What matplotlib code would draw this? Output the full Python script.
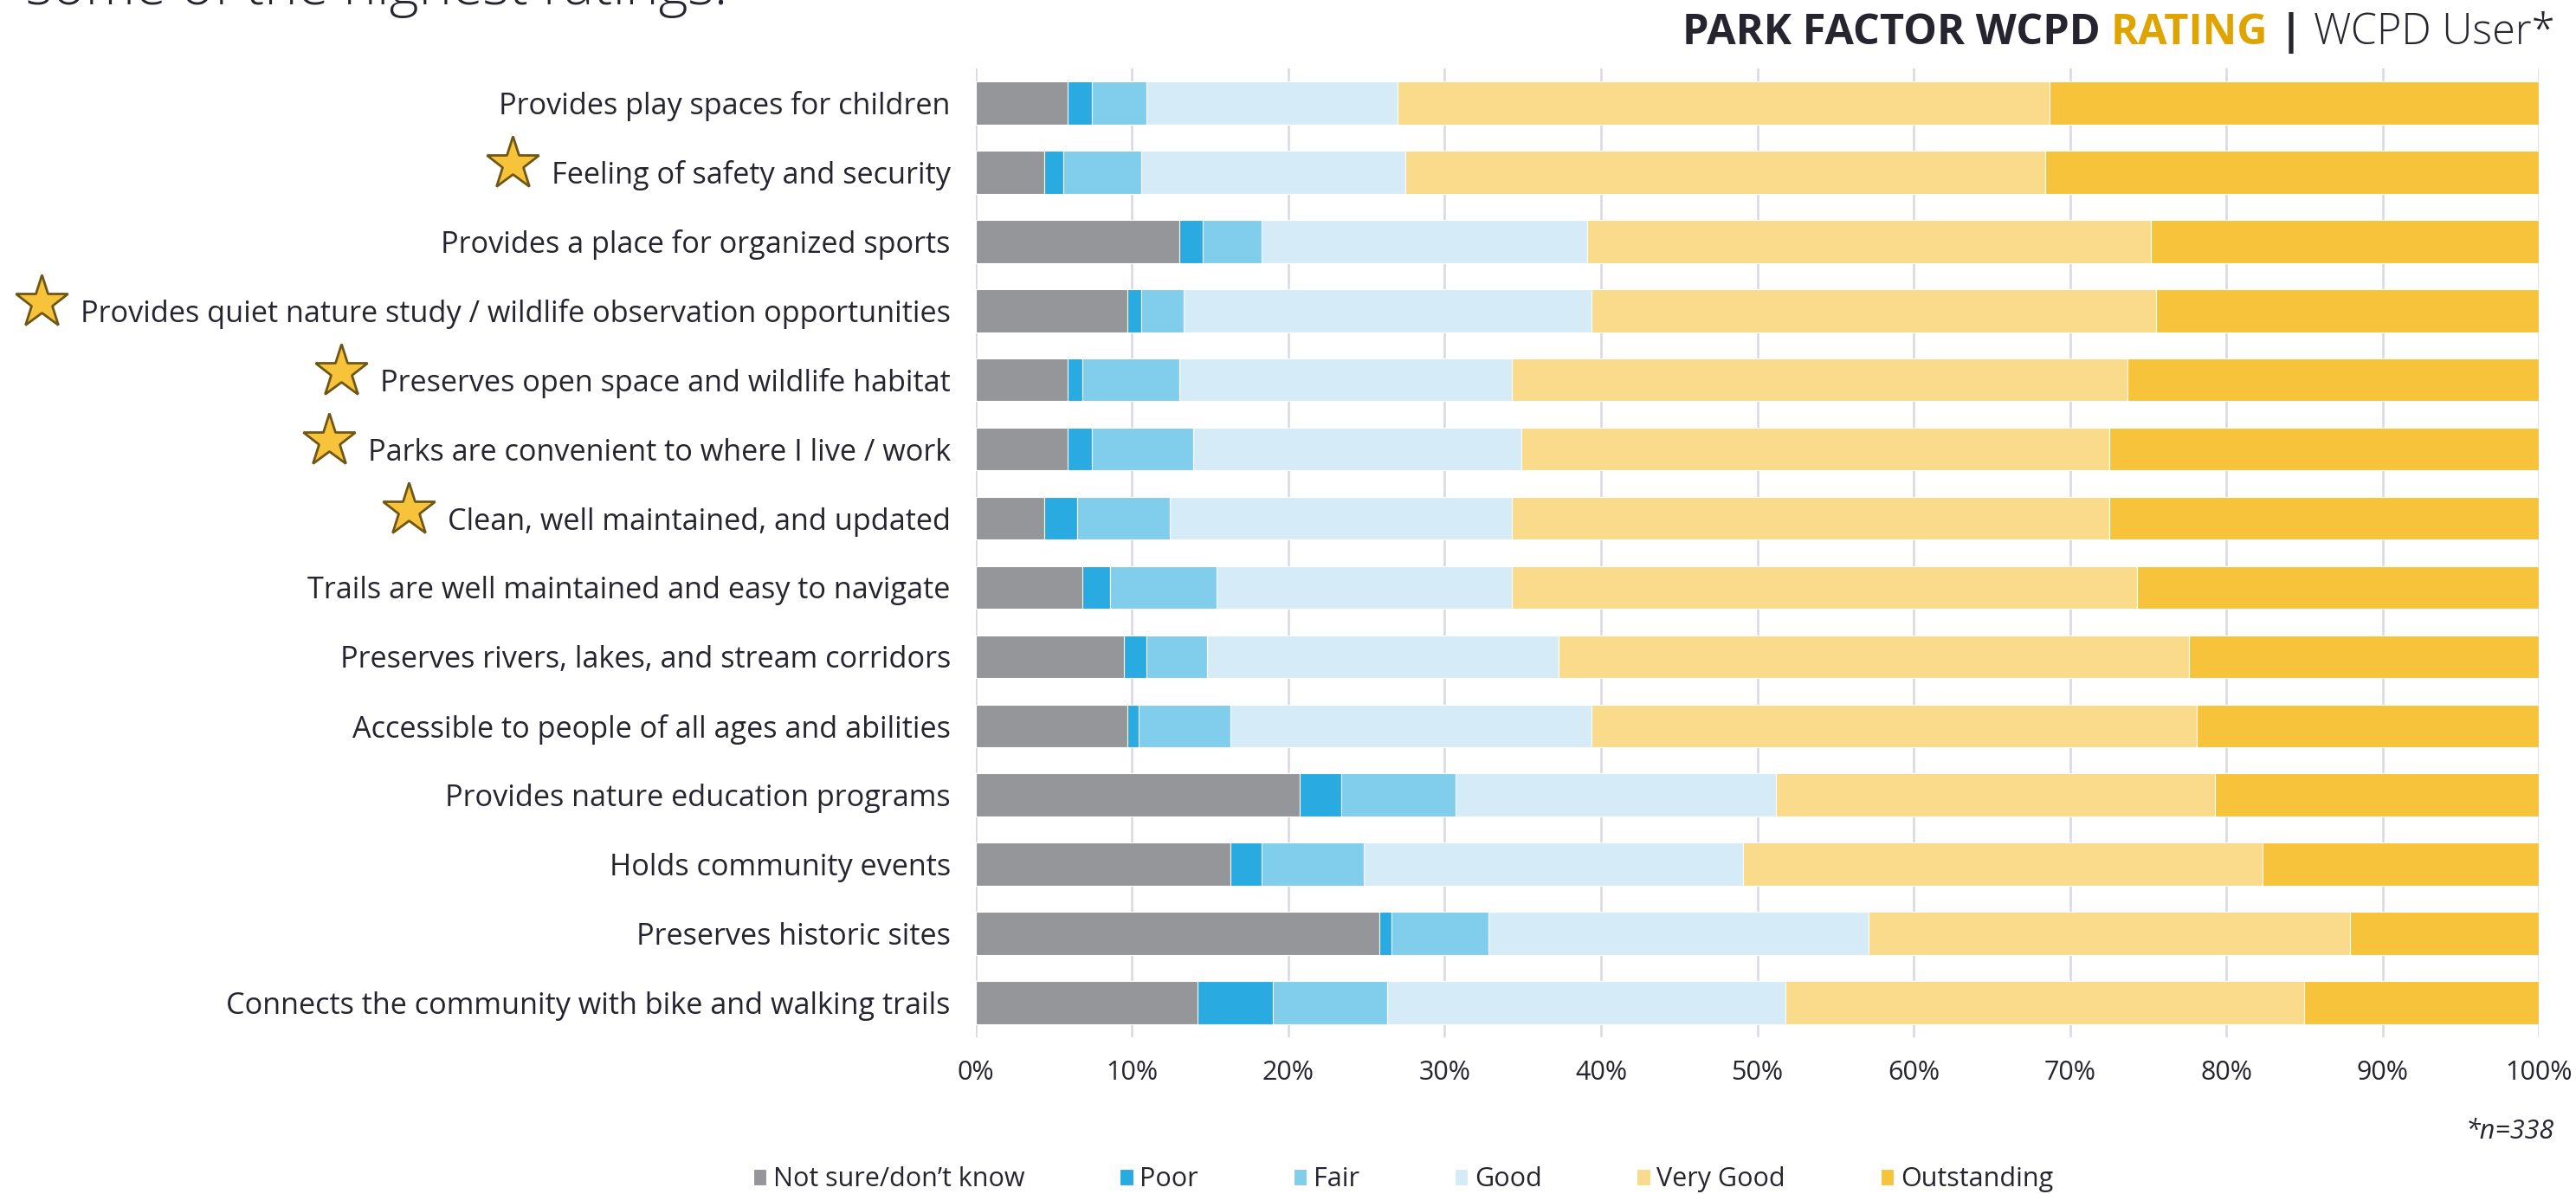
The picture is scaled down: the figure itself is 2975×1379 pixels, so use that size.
import numpy as np
import matplotlib.pyplot as plt
from matplotlib.lines import Line2D

plt.rcParams['font.family'] = ['Open Sans', 'DejaVu Sans']

TEXT = '#26252f'

factors = [
    'Provides play spaces for children',
    'Feeling of safety and security',
    'Provides a place for organized sports',
    'Provides quiet nature study / wildlife observation opportunities',
    'Preserves open space and wildlife habitat',
    'Parks are convenient to where I live / work',
    'Clean, well maintained, and updated',
    'Trails are well maintained and easy to navigate',
    'Preserves rivers, lakes, and stream corridors',
    'Accessible to people of all ages and abilities',
    'Provides nature education programs',
    'Holds community events',
    'Preserves historic sites',
    'Connects the community with bike and walking trails',
]
# rows flagged with a star
starred = [1, 3, 4, 5, 6]

ratings = ['Not sure/don\u2019t know', 'Poor', 'Fair', 'Good', 'Very Good', 'Outstanding']

# percent of respondents, same order as factors
not_sure = [5.9, 4.4, 13.0, 9.7, 5.9, 5.9, 4.4, 6.8, 9.5, 9.7, 20.7, 16.3, 25.8, 14.2]
poor = [1.5, 1.2, 1.5, 0.9, 0.9, 1.5, 2.1, 1.8, 1.4, 0.7, 2.7, 2.0, 0.8, 4.8]
fair = [3.5, 5.0, 3.8, 2.7, 6.2, 6.5, 5.9, 6.8, 3.9, 5.9, 7.3, 6.5, 6.2, 7.3]
good = [16.1, 16.9, 20.8, 26.1, 21.3, 21.0, 21.9, 18.9, 22.5, 23.1, 20.5, 24.3, 24.3, 25.5]
very_good = [41.7, 40.9, 36.1, 36.1, 39.4, 37.6, 38.2, 40.0, 40.3, 38.7, 28.1, 33.2, 30.8, 33.2]
outstanding = [31.3, 31.6, 24.8, 24.5, 26.3, 27.5, 27.5, 25.7, 22.4, 21.9, 20.7, 17.7, 12.1, 15.0]

series = [not_sure, poor, fair, good, very_good, outstanding]
colors = ['#959699', '#29abe2', '#80cdec', '#d5ecf8', '#fadb8b', '#f7c33a']

xticks = list(range(0, 101, 10))

fig = plt.figure(figsize=(29.75, 13.79), dpi=100)
ax = fig.add_axes([0.3788, 0.1313, 0.6068, 0.8114])

y = np.arange(len(factors))
left = np.zeros(len(factors))
for vals, col, name in zip(series, colors, ratings):
    ax.barh(y, vals, left=left, height=0.62, color=col, edgecolor='white',
            linewidth=0.8, label=name, zorder=3)
    left += np.array(vals)

ax.set_xlim(0, 100)
ax.set_ylim(len(factors) - 0.5, -0.5)
ax.set_xticks(xticks)
ax.set_xticklabels([f'{t}%' for t in xticks])
ax.set_yticks(y)
ax.set_yticklabels(factors)
ax.grid(axis='x', color='#d9d8e2', linewidth=1.8, zorder=0)
ax.set_axisbelow(True)
for s in ax.spines.values():
    s.set_visible(False)
ax.tick_params(axis='y', length=0, pad=21, labelsize=24.7, labelcolor=TEXT)
ax.tick_params(axis='x', length=0, pad=19, labelsize=22, labelcolor=TEXT)

# heading, built from pieces right to left
t1 = fig.text(2950 / 2975, 1 - 51 / 1379, 'WCPD User*', ha='right', va='baseline',
              fontsize=35, weight='light', color=TEXT)
t2 = ax.annotate(' | ', xy=(0, 0), xycoords=t1, ha='right', va='bottom',
                 fontsize=35, weight='bold', color=TEXT, annotation_clip=False)
t3 = ax.annotate('RATING', xy=(0, 0), xycoords=t2, ha='right', va='bottom',
                 fontsize=35, weight='bold', color='#e0a400', annotation_clip=False)
ax.annotate('PARK FACTOR WCPD ', xy=(0, 0), xycoords=t3, ha='right', va='bottom',
            fontsize=35, weight='bold', color=TEXT, annotation_clip=False)

fig.text(30 / 2975, 1 - 5 / 1379, 'some of the highest ratings.', ha='left',
         va='baseline', fontsize=47, weight='light', color=TEXT)

fig.text(2950 / 2975, 1 - 1307 / 1379, '*n=338', ha='right', va='center',
         fontsize=22, style='italic', color=TEXT)

handles, labels = ax.get_legend_handles_labels()
fig.legend(handles, labels, loc='center', bbox_to_anchor=(0.5447, 0.012), ncol=6,
           frameon=False, fontsize=22, labelcolor=TEXT, handlelength=0.5,
           handleheight=0.55, handletextpad=0.25, columnspacing=3.6)

# stars next to the flagged labels
fig.canvas.draw()
inv = fig.transFigure.inverted()
ticklabels = ax.get_yticklabels()
for i in starred:
    bb = ticklabels[i].get_window_extent()
    _, yc = ax.transData.transform((0, i))
    fx, fy = inv.transform((bb.x0 - 45, yc + 10))
    fig.add_artist(Line2D([fx], [fy], marker='*', markersize=46,
                          markerfacecolor='#f7c33a', markeredgecolor='#6e5614',
                          markeredgewidth=2, transform=fig.transFigure))

fig.savefig('out.png', dpi=100)
